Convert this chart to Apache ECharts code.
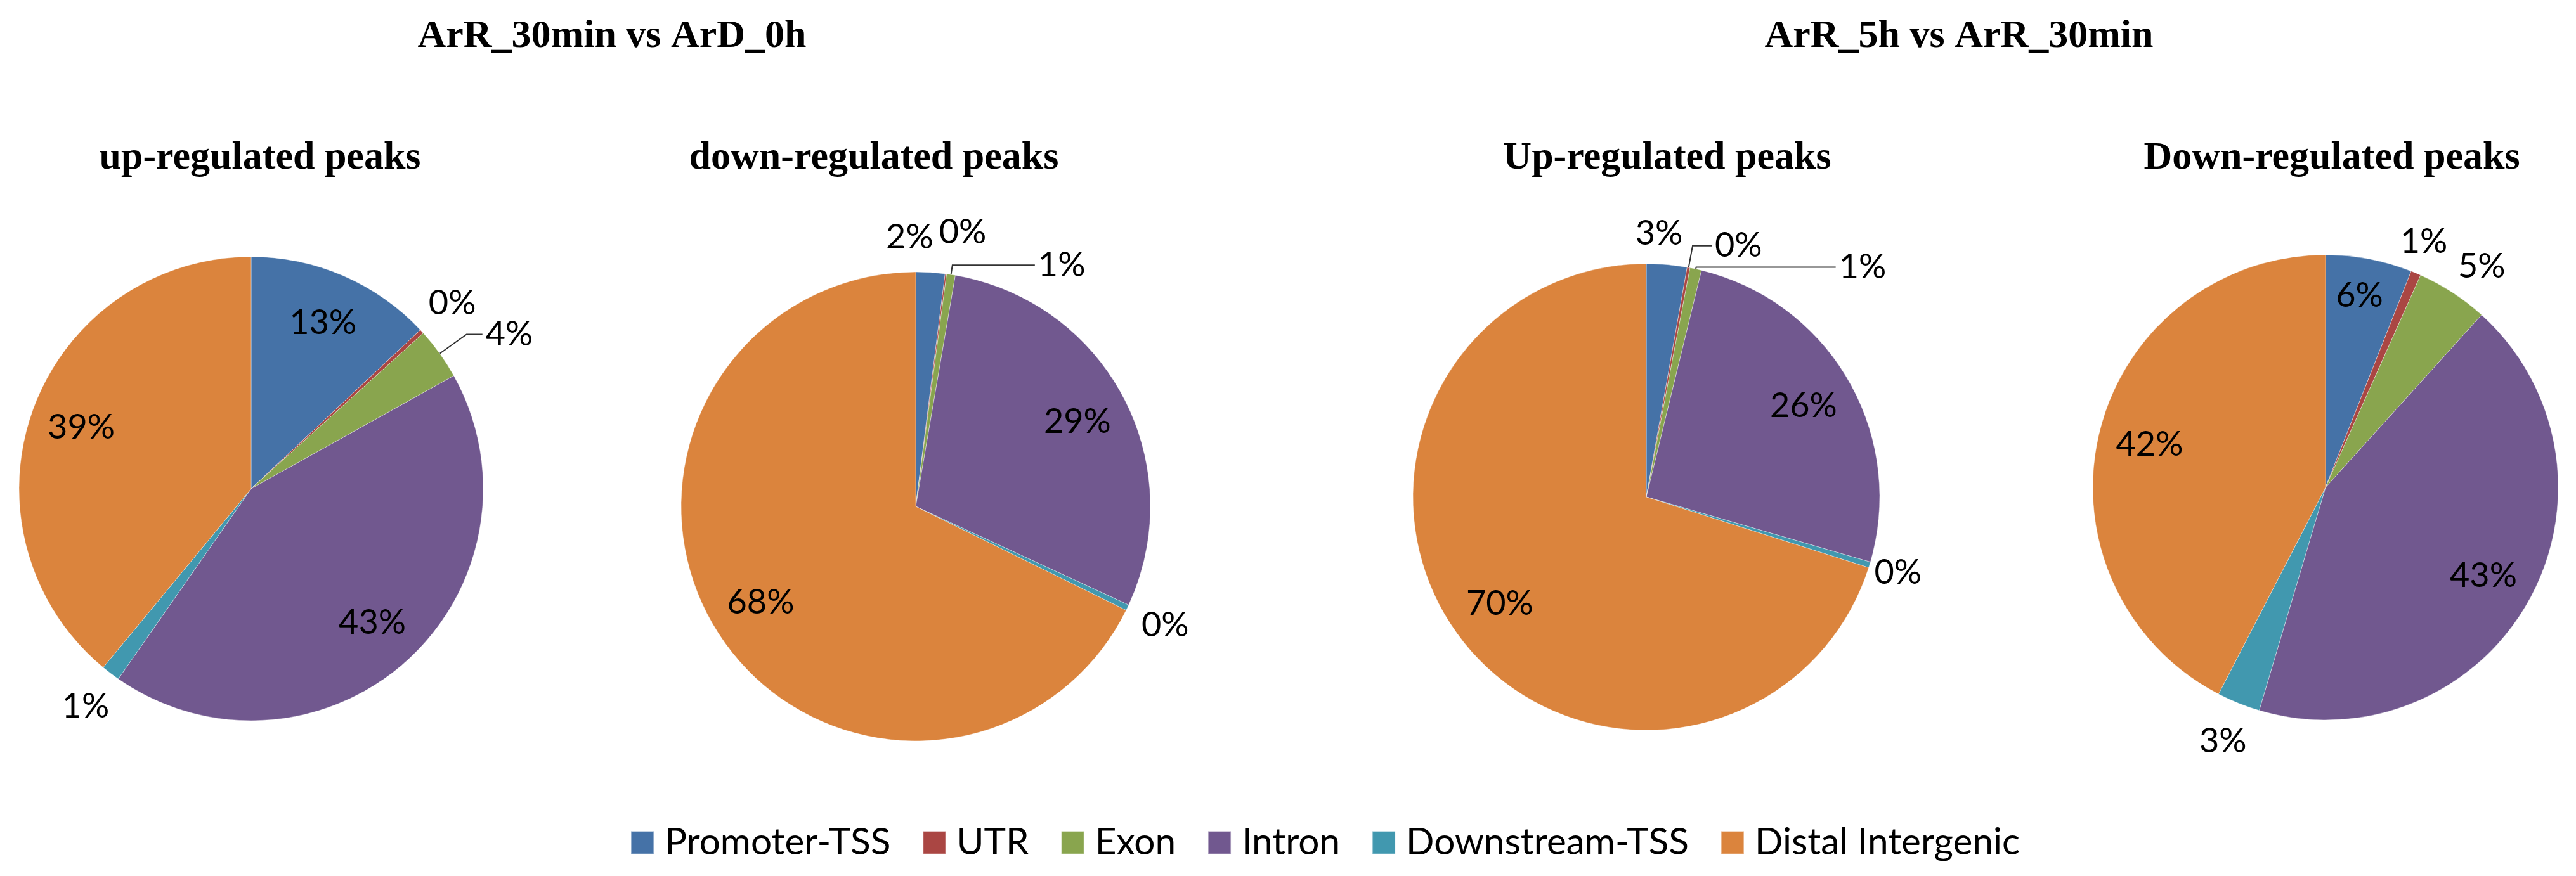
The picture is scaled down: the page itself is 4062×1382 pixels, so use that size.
<!DOCTYPE html>
<html><head><meta charset="utf-8">
<script src="https://cdn.jsdelivr.net/npm/echarts@6/dist/echarts.min.js"></script>
<style>html,body{margin:0;padding:0;background:#fff}#c{width:4062px;height:1382px}</style>
</head><body><div id="c"></div>
<script>
// ---- data ----
const categories = ['Promoter-TSS', 'UTR', 'Exon', 'Intron', 'Downstream-TSS', 'Distal Intergenic'];
const groupTitles = ['ArR_30min vs ArD_0h', 'ArR_5h vs ArR_30min'];
const pieTitles = ['up-regulated peaks', 'down-regulated peaks', 'Up-regulated peaks', 'Down-regulated peaks'];
const pie1Values = [13.0, 0.3, 3.6, 42.8, 1.3, 39.0];
const pie2Values = [2.0, 0.1, 0.6, 29.2, 0.4, 67.7];
const pie3Values = [2.8, 0.2, 0.8, 25.7, 0.4, 70.1];
const pie4Values = [6.0, 0.7, 5.0, 42.9, 3.0, 42.4];

// ---- styles / layout ----
const colors = ['#4572A7', '#AA4643', '#89A54E', '#71588F', '#4198AF', '#DB843D'];
const serif = 'Liberation Serif';
const sans = 'Lato';
const pies = [
  {values: pie1Values, center: [396, 771], r: 366,
   place: ['in', 'out', 'line', 'in', 'out', 'in'],
   offset: {}, line: {2: {length: 52, length2: 25, lift: 18}}},
  {values: pie2Values, center: [1444, 799], r: 370,
   place: ['out', 'out', 'line', 'in', 'out', 'in'],
   offset: {0: [-37, 11], 1: [18, 0]}, line: {2: {length: 15, length2: 130, lift: 26}}},
  {values: pie3Values, center: [2596, 784], r: 368,
   place: ['out', 'line', 'line', 'in', 'out', 'in'],
   offset: {0: [-18, 16], 4: [-18, -7]}, line: {1: {length: 35, length2: 30, lift: 13}, 2: {length: 3, length2: 220, lift: 0}}},
  {values: pie4Values, center: [3667, 769], r: 367,
   place: ['in', 'out', 'out', 'in', 'out', 'in'],
   offset: {0: [0, -22], 1: [-13, 11], 2: [10, 14]}, line: {}}
];
const titleX = [960, 3084];
const subTitleX = [405, 1373, 2624, 3672];

const fmt = p => Math.round(p.percent) + '%';
const labelText = {fontFamily: sans, fontSize: 54, color: '#000'};

const series = [];
// real pies
pies.forEach(pc => {
  series.push({
    type: 'pie', center: pc.center, radius: [0, pc.r], startAngle: 90, clockwise: true,
    avoidLabelOverlap: false, animation: false, silent: true,
    itemStyle: {borderColor: 'rgba(255,255,255,0.4)', borderWidth: 1},
    label: {show: false}, labelLine: {show: false},
    data: pc.values.map((v, i) => {
      const ln = pc.line[i];
      const item = {name: categories[i], value: v, itemStyle: {color: colors[i]}};
      if (pc.place[i] === 'line') {
        item.label = Object.assign({show: true, position: 'outside', formatter: fmt,
          distanceToLabelLine: 5, padding: [0, 0, 2 * ln.lift, 0]}, labelText);
        item.labelLine = {show: true, length: ln.length, length2: ln.length2, smooth: false,
          lineStyle: {color: '#333', width: 2}};
      } else {
        item.label = {show: false};
        item.labelLine = {show: false};
      }
      return item;
    })
  });
});
// label rings (transparent) for inner and outer labels
pies.forEach(pc => {
  [['in', 0.54, 1.0], ['out', 1.0, 1.34]].forEach(([kind, a, b]) => {
    series.push({
      type: 'pie', center: pc.center, radius: [pc.r * a, pc.r * b], startAngle: 90, clockwise: true,
      avoidLabelOverlap: false, animation: false, silent: true,
      itemStyle: {color: 'rgba(0,0,0,0)', borderWidth: 0},
      labelLine: {show: false},
      label: Object.assign({show: false, position: 'inside', formatter: fmt}, labelText),
      data: pc.values.map((v, i) => ({
        name: categories[i], value: v,
        itemStyle: {color: 'rgba(0,0,0,0)'},
        label: {show: pc.place[i] === kind, offset: pc.offset[i] || [0, 0]}
      }))
    });
  });
});

const titles = [];
groupTitles.forEach((t, i) => titles.push({text: t, left: titleX[i], top: 22, textAlign: 'center',
  textStyle: {fontFamily: serif, fontWeight: 'bold', fontSize: 62, color: '#000'}}));
pieTitles.forEach((t, i) => titles.push({text: t, left: subTitleX[i], top: 214, textAlign: 'center',
  textStyle: {fontFamily: serif, fontWeight: 'bold', fontSize: 62, color: '#000'}}));

const chart = echarts.init(document.getElementById('c'), null, {renderer: 'canvas'});
chart.setOption({
  backgroundColor: '#fff',
  animation: false,
  color: colors,
  title: titles,
  legend: {
    data: categories.map((n, i) => ({name: n, itemStyle: {color: colors[i]}})),
    left: 989, top: 1295, icon: 'rect', itemWidth: 36, itemHeight: 36, itemGap: 50,
    selectedMode: false,
    textStyle: {fontFamily: sans, fontSize: 58.5, color: '#000', padding: [0, 0, 0, 12]}
  },
  series: series
});
</script></body></html>
